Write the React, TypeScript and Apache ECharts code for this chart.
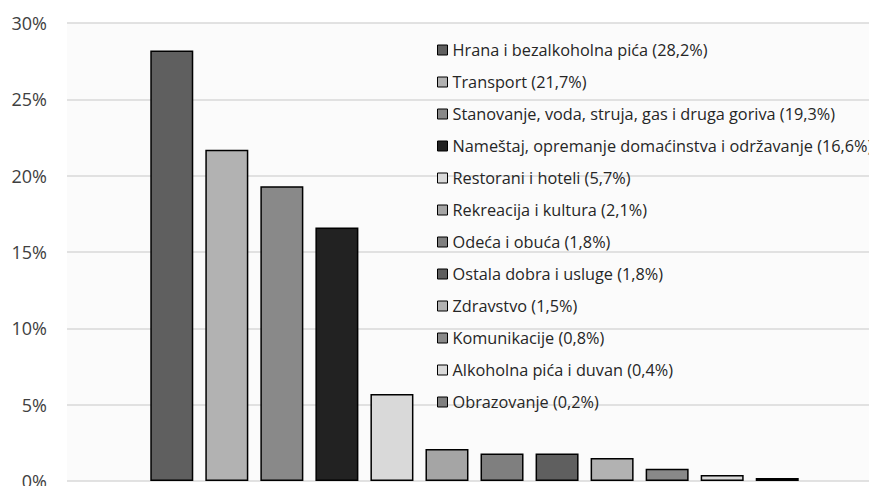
import React, { useEffect, useRef } from "react";
import * as echarts from "echarts";

const categories: string[] = [
  "Hrana i bezalkoholna pića (28,2%)",
  "Transport (21,7%)",
  "Stanovanje, voda, struja, gas i druga goriva (19,3%)",
  "Nameštaj, opremanje domaćinstva i održavanje (16,6%)",
  "Restorani i hoteli (5,7%)",
  "Rekreacija i kultura (2,1%)",
  "Odeća i obuća (1,8%)",
  "Ostala dobra i usluge (1,8%)",
  "Zdravstvo (1,5%)",
  "Komunikacije (0,8%)",
  "Alkoholna pića i duvan (0,4%)",
  "Obrazovanje (0,2%)",
];

const values: number[] = [28.2, 21.7, 19.3, 16.6, 5.7, 2.1, 1.8, 1.8, 1.5, 0.8, 0.4, 0.2];

const colors: string[] = [
  "#5f5f5f", "#b2b2b2", "#898989", "#222222", "#d9d9d9", "#a5a5a5",
  "#7f7f7f", "#5f5f5f", "#b2b2b2", "#898989", "#d9d9d9", "#7f7f7f",
];

const yTicks = { min: 0, max: 30, interval: 5 };

export default function App() {
  const ref = useRef<HTMLDivElement>(null);
  useEffect(() => {
    document.body.style.margin = "0";
    document.body.style.overflow = "hidden";
    document.documentElement.style.overflow = "hidden";
    if (!ref.current) return;
    const chart = echarts.init(ref.current, undefined, { renderer: "svg" });
    chart.setOption({
      animation: false,
      backgroundColor: "#ffffff",
      textStyle: { fontFamily: "Open Sans" },
      grid: [
        {
          left: 67,
          right: 0,
          top: 23,
          bottom: 5,
          outerBoundsMode: "none",
          containLabel: false,
          show: true,
          backgroundColor: "#fbfbfb",
          borderWidth: 0,
        },
        {
          left: 80,
          right: 0,
          top: 23,
          bottom: 5,
          outerBoundsMode: "none",
          containLabel: false,
        },
      ],
      legend: {
        orient: "vertical",
        left: 437,
        top: 41,
        padding: 0,
        itemWidth: 10,
        itemHeight: 10,
        itemGap: 14,
        itemTextGap: 5,
        icon: "rect",
        itemStyle: { borderColor: "#000", borderWidth: 1 },
        textStyle: {
          fontFamily: "Open Sans",
          fontSize: 16.3,
          lineHeight: 18,
          color: "#262626",
        },
        data: categories,
      },
      xAxis: [
        {
          type: "category",
          gridIndex: 0,
          data: ["x"],
          axisLine: { show: false },
          axisTick: { show: false },
          axisLabel: { show: false },
        },
        {
          type: "category",
          gridIndex: 1,
          data: ["x"],
          axisLine: { show: false },
          axisTick: { show: false },
          axisLabel: { show: false },
        },
      ],
      yAxis: [
        {
          type: "value",
          gridIndex: 0,
          min: yTicks.min,
          max: yTicks.max,
          interval: yTicks.interval,
          axisLine: { show: false },
          axisTick: { show: false },
          axisLabel: {
            formatter: "{value}%",
            fontFamily: "Open Sans",
            fontSize: 18,
            color: "#404040",
            margin: 20,
          },
          splitLine: { lineStyle: { color: "#d9d9d9", width: 1.5 } },
        },
        {
          type: "value",
          gridIndex: 1,
          min: yTicks.min,
          max: yTicks.max,
          interval: yTicks.interval,
          show: false,
          splitLine: { show: false },
        },
      ],
      series: categories.map((name, i) => ({
        name,
        type: "bar",
        xAxisIndex: 1,
        yAxisIndex: 1,
        data: [values[i]],
        barWidth: 43,
        barGap: "28%",
        itemStyle: { color: colors[i], borderColor: "#000", borderWidth: 1.5 },
      })),
    });
    return () => chart.dispose();
  }, []);
  return (
    <div style={{ width: 869, height: 486, overflow: "hidden" }}>
      <div ref={ref} style={{ width: 869, height: 486 }} />
    </div>
  );
}
